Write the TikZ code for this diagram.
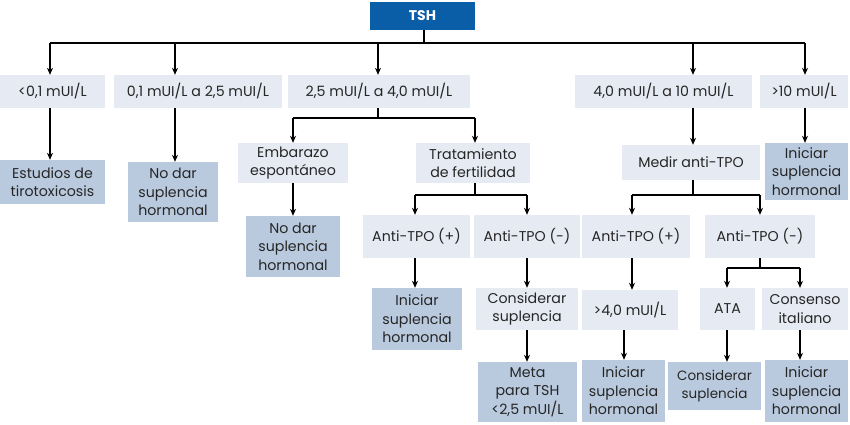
\documentclass[tikz,border=0pt]{standalone}
\usepackage{fontspec}
\setmainfont{Poppins}
\usetikzlibrary{arrows.meta}
\definecolor{lt}{HTML}{E6EBF3}
\definecolor{dk}{HTML}{B9CADF}
\definecolor{tsh}{HTML}{0A5EA8}
\begin{document}
\begin{tikzpicture}[x=1pt,y=-1pt,
  box/.style={inner sep=0pt,align=center,font=\fontsize{14.2}{18.5}\selectfont,text=black!85},
  ltbox/.style={box,fill=lt},
  dkbox/.style={box,fill=dk},
  arr/.style={-{Stealth[length=7pt,width=6pt]},line width=1.1pt},
  ln/.style={line width=1.1pt}]
\useasboundingbox (0,0) rectangle (850,424);
\newcommand\bx[6]{\node[#1,minimum width=#4-#2,minimum height=#5-#3] (#6) at ({(#2+#4)/2},{(#3+#5)/2})}
\bx{box,fill=tsh,text=white,font=\fontsize{14}{16}\selectfont\bfseries}{370}{2}{475}{30}{tsh}{TSH};
\bx{ltbox}{0}{75}{105}{108}{r1}{<0,1 mUI/L};
\bx{ltbox}{114}{75}{282}{108}{r2}{0,1 mUI/L a 2,5 mUI/L};
\bx{ltbox}{288}{75}{470}{108}{r3}{2,5 mUI/L a 4,0 mUI/L};
\bx{ltbox}{575}{75}{752}{108}{r4}{4,0 mUI/L a 10 mUI/L};
\bx{ltbox}{760}{75}{848}{108}{r5}{>10 mUI/L};
\bx{dkbox}{0}{160}{105}{204}{est}{Estudios de\\tirotoxicosis};
\bx{dkbox}{128}{162}{218}{222}{nod1}{No dar\\suplencia\\hormonal};
\bx{ltbox}{238}{143}{348}{183}{emb}{Embarazo\\espontáneo};
\bx{ltbox}{416}{143}{530}{183}{trat}{Tratamiento\\de fertilidad};
\bx{dkbox}{246}{216}{340}{277}{nod2}{No dar\\suplencia\\hormonal};
\bx{ltbox}{363}{215}{470}{258}{ap1}{Anti-TPO (+)};
\bx{ltbox}{474}{215}{580}{258}{an1}{Anti-TPO (-)};
\bx{dkbox}{372}{288}{462}{350}{ini1}{Iniciar\\suplencia\\hormonal};
\bx{ltbox}{476}{288}{578}{330}{cons1}{Considerar\\suplencia};
\bx{dkbox}{478}{362}{577}{422}{meta}{Meta\\para TSH\\<2,5 mUI/L};
\bx{ltbox}{622}{145}{760}{180}{medir}{Medir anti-TPO};
\bx{dkbox}{765}{143}{848}{200}{ini5}{Iniciar\\suplencia\\hormonal};
\bx{ltbox}{582}{215}{690}{258}{ap2}{Anti-TPO (+)};
\bx{ltbox}{705}{215}{815}{258}{an2}{Anti-TPO (-)};
\bx{ltbox}{582}{290}{678}{330}{gt4}{>4,0 mUI/L};
\bx{dkbox}{582}{360}{665}{422}{ini2}{Iniciar\\suplencia\\hormonal};
\bx{ltbox}{700}{288}{755}{330}{ata}{ATA};
\bx{ltbox}{762}{288}{848}{330}{consit}{Consenso\\italiano};
\bx{dkbox,font=\fontsize{13.5}{18.5}\selectfont}{668}{362}{761}{410}{cons2}{Considerar\\suplencia};
\bx{dkbox}{765}{360}{848}{422}{ini3}{Iniciar\\suplencia\\hormonal};
% x positions
\foreach \n/\v in {a/50,b/175,c/378,d/693,e/805,f/293,g/475,h/415,i/527,j/632,k/760,l/727,m/800,n/624,o/424}
  \coordinate (x\n) at (\v,0);
\coordinate (y1) at (0,43);
\coordinate (y2) at (0,118);
\coordinate (y3) at (0,195);
\coordinate (y4) at (0,268);
% TSH bus
\draw[ln] (xo |- tsh.south) -- (xo |- y1);
\draw[ln] (xa |- y1) -- (xe |- y1);
\foreach \x/\t in {a/r1,b/r2,c/r3,d/r4,e/r5} \draw[arr] (x\x |- y1) -- (x\x |- \t.north);
\draw[arr] (xa |- r1.south) -- (xa |- est.north);
\draw[arr] (xb |- r2.south) -- (xb |- nod1.north);
\draw[ln] (xc |- r3.south) -- (xc |- y2);
\draw[ln] (xf |- y2) -- (xg |- y2);
\draw[arr] (xf |- y2) -- (xf |- emb.north);
\draw[arr] (xg |- y2) -- (xg |- trat.north);
\draw[arr] (xf |- emb.south) -- (xf |- nod2.north);
\draw[ln] (xg |- trat.south) -- (xg |- y3);
\draw[ln] (xh |- y3) -- (xi |- y3);
\draw[arr] (xh |- y3) -- (xh |- ap1.north);
\draw[arr] (xi |- y3) -- (xi |- an1.north);
\draw[arr] (xh |- ap1.south) -- (xh |- ini1.north);
\draw[arr] (xi |- an1.south) -- (xi |- cons1.north);
\draw[arr] (xi |- cons1.south) -- (xi |- meta.north);
\draw[arr] (xd |- r4.south) -- (xd |- medir.north);
\draw[arr] (xe |- r5.south) -- (xe |- ini5.north);
\draw[ln] (xd |- medir.south) -- (xd |- y3);
\draw[ln] (xj |- y3) -- (xk |- y3);
\draw[arr] (xj |- y3) -- (xj |- ap2.north);
\draw[arr] (xk |- y3) -- (xk |- an2.north);
\draw[arr] (xj |- ap2.south) -- (xj |- gt4.north);
\draw[arr] (xn |- gt4.south) -- (xn |- ini2.north);
\draw[ln] (xk |- an2.south) -- (xk |- y4);
\draw[ln] (xl |- y4) -- (xm |- y4);
\draw[arr] (xl |- y4) -- (xl |- ata.north);
\draw[arr] (xm |- y4) -- (xm |- consit.north);
\draw[arr] (xl |- ata.south) -- (xl |- cons2.north);
\draw[arr] (xm |- consit.south) -- (xm |- ini3.north);
\end{tikzpicture}
\end{document}
